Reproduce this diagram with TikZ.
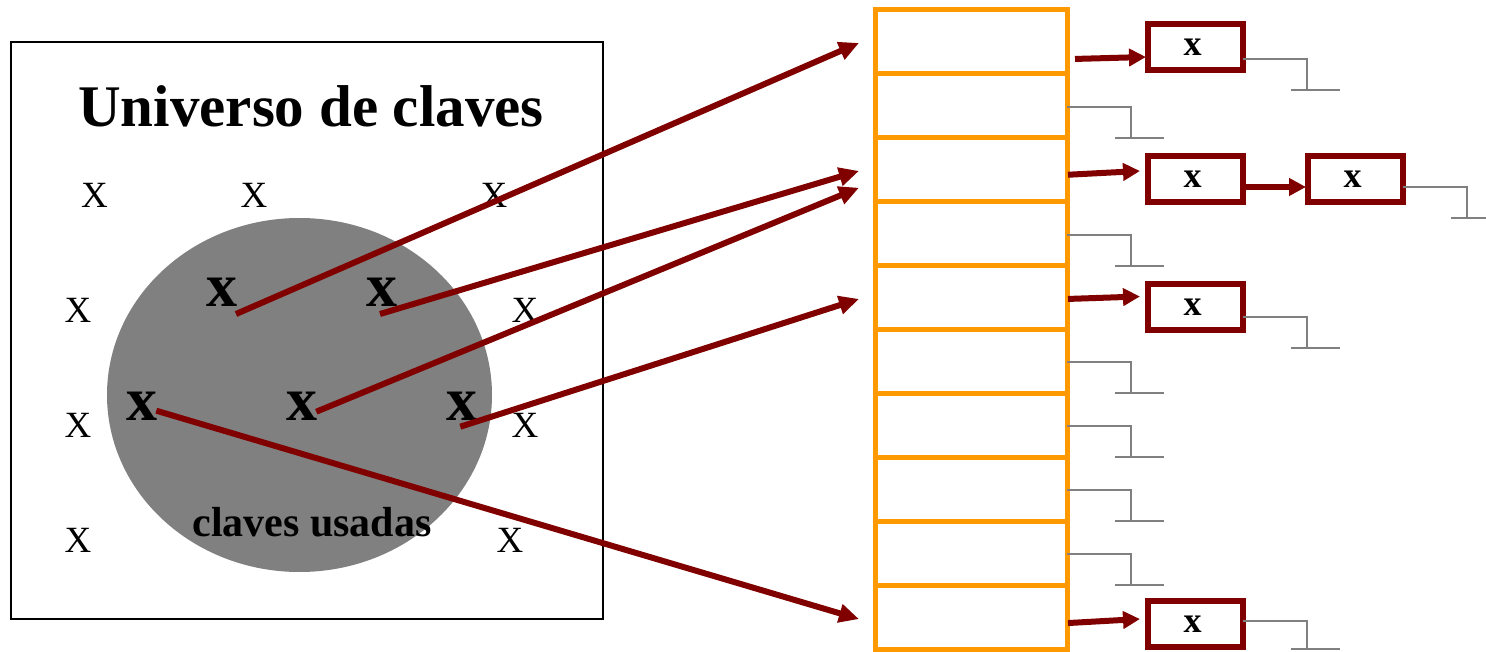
\documentclass[tikz,border=0pt]{standalone}
\usepackage{fontspec}
\setmainfont{Liberation Serif}
\usetikzlibrary{arrows.meta,calc,shapes.geometric}
\definecolor{keyred}{RGB}{128,0,0}
\definecolor{taborange}{RGB}{255,153,0}
\definecolor{nullgray}{RGB}{128,128,128}
\definecolor{setgray}{RGB}{128,128,128}
\begin{document}
\begin{tikzpicture}[x=1pt,y=-1pt,
  smallx/.style={font=\fontsize{37}{40}\selectfont, inner sep=0pt},
  usedx/.style={font=\fontsize{62}{64}\selectfont\bfseries, inner sep=0pt},
  slot/.style={draw=taborange, line width=5pt, minimum width=192pt, minimum height=63.9pt, inner sep=0pt, outer sep=0pt},
  elem/.style={draw=keyred, line width=6pt, minimum width=95pt, minimum height=46pt, inner sep=0pt, outer sep=0pt, font=\fontsize{36}{38}\selectfont\bfseries},
  hasharrow/.style={draw=keyred, line width=6pt, -{Triangle[length=20pt,width=18pt]}},
  linkarrow/.style={draw=keyred, line width=6pt, -{Triangle[length=17pt,width=17pt]}},
  nilline/.style={draw=nullgray, line width=2pt},
]
\useasboundingbox (0,0) rectangle (1486,652);

% universe of keys
\node[draw=black, line width=2pt, minimum width=592pt, minimum height=577pt, inner sep=0pt] (universe) at (307,330.5) {};
\node[ellipse, fill=setgray, minimum width=385pt, minimum height=354pt, inner sep=0pt] (used) at (299.5,395) {};
\node[font=\fontsize{59}{60}\selectfont\bfseries, anchor=base, inner sep=0pt] (title) at (311,127) {Universo de claves};
\node[font=\fontsize{42}{44}\selectfont\bfseries, anchor=base, inner sep=0pt] (usedlabel) at (312,536) {claves usadas};

% unused keys
\node[smallx] (u1) at (94.5,195) {X};
\node[smallx] (u2) at (254,195) {X};
\node[smallx] (u3) at (494,195) {X};
\node[smallx] (u4) at (78,310) {X};
\node[smallx] (u5) at (525,310) {X};
\node[smallx] (u6) at (78,425) {X};
\node[smallx] (u7) at (525,425) {X};
\node[smallx] (u8) at (78,540) {X};
\node[smallx] (u9) at (510,540) {X};

% used keys
\node[usedx] (k1) at (222,292) {x};
\node[usedx] (k2) at (382,292) {x};
\node[usedx] (k3) at (142.3,406.7) {x};
\node[usedx] (k4) at (302.3,406.7) {x};
\node[usedx] (k5) at (462.3,406.7) {x};

% hash table
\foreach \i in {1,...,10}
  \node[slot] (row\i) at (971,{10+63.9*(\i-0.5)}) {};

% list elements
\node[elem] (box1) at (1195.5,47) {x\kern6pt};
\node[elem] (box2) at (1195.5,179) {x\kern6pt};
\node[elem] (box3) at (1355.5,179) {x\kern6pt};
\node[elem] (box4) at (1195.5,307.5) {x\kern6pt};
\node[elem] (box5) at (1195.5,624) {x\kern6pt};

% null pointers of empty slots
\foreach \i in {2,4,6,7,8,9} {
  \draw[nilline] ($(row\i.east)+(0,1)$) -- ++(64,0) -- ++(0,31) coordinate (nb\i);
  \draw[nilline] ($(nb\i)+(-16,0)$) -- ++(49,0);
}
% null pointers of list ends
\foreach \b/\dy/\dd in {box1/12/31,box3/8/31,box4/10/30,box5/-3/28} {
  \draw[nilline] ($(\b.east)+(0,\dy)$) -- ++(64,0) -- ++(0,\dd) coordinate (ne\b);
  \draw[nilline] ($(ne\b)+(-16,0)$) -- ++(49,0);
}

% hashing arrows
\coordinate (s1) at ($(k1)+(14,22)$);
\coordinate (s2) at ($(k2)+(-2,22)$);
\coordinate (s3) at ($(k4)+(14,5)$);
\coordinate (s4) at ($(k5)+(-2,20)$);
\coordinate (s5) at ($(k3)+(14,4)$);
\coordinate (t1) at ($(row1.west)+(-16,1)$);
\coordinate (t2) at ($(row3.west)+(-16,1.2)$);
\coordinate (t3) at ($(row3.west)+(-16,18)$);
\coordinate (t4) at ($(row5.west)+(-16,1.4)$);
\coordinate (t5) at ($(row10.west)+(-16,2)$);
\draw[hasharrow] (s1) -- (t1);
\draw[hasharrow] (s2) -- (t2);
\draw[hasharrow] (s3) -- (t3);
\draw[hasharrow] (s4) -- (t4);
\draw[hasharrow] (s5) -- (t5);

% chain arrows
\draw[linkarrow] ($(row1.east)+(8,17)$) -- ($(box1.west)+(-2,10)$);
\draw[linkarrow] ($(row3.east)+(1,5)$) -- ($(box2.west)+(-8,-8)$);
\draw[linkarrow] ($(box2.east)+(0,8)$) -- ($(box3.west)+(-2,8)$);
\draw[linkarrow] ($(row5.east)+(1,1.4)$) -- ($(box4.west)+(-8,-11)$);
\draw[linkarrow] ($(row10.east)+(1,6)$) -- ($(box5.west)+(-8,-5)$);
\end{tikzpicture}
\end{document}
